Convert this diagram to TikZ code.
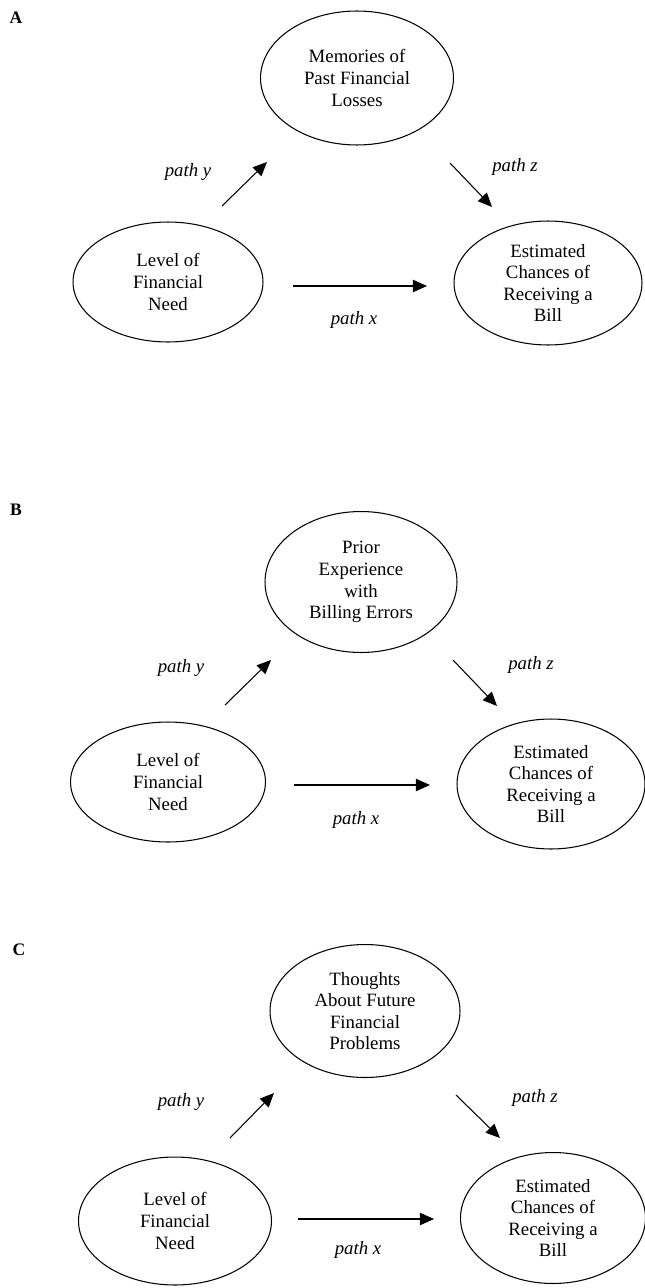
\documentclass[tikz,border=0pt]{standalone}
\usepackage{fontspec}
\setmainfont{Liberation Serif}
\usepackage{tikz}
\usetikzlibrary{shapes.geometric,arrows.meta}

\begin{document}
\begin{tikzpicture}[x=0.02cm, y=-0.02cm,
  ell/.style={draw, ellipse, line width=0.6pt, inner sep=0pt, align=center,
    font=\fontsize{10.7}{12.3}\selectfont},
  pth/.style={font=\fontsize{10.7}{12.3}\selectfont\itshape},
  arr/.style={line width=0.6pt, -{Triangle[length=8pt,width=7pt]}},
  panel/.style={font=\fontsize{10}{12}\selectfont\bfseries}]
\useasboundingbox (0,0) rectangle (645,1288);

\begin{scope}[shift={(0,18)}, name prefix=A-]
\node[panel] (lab) at (16,0) {A};
\node[ell, minimum width=3.86cm, minimum height=2.68cm] (mid) at (357,60) {Memories of\\Past Financial\\Losses};
\node[ell, minimum width=3.8cm, minimum height=2.4cm] (need) at (168,264) {Level of\\Financial\\Need};
\node[ell, minimum width=3.76cm, minimum height=2.48cm] (est) at (548,265) {Estimated\\Chances of\\Receiving a\\Bill};
\coordinate (y1) at (222,188);
\coordinate (y2) at (267,144);
\coordinate (z1) at (450,145);
\coordinate (z2) at (492,189);
\coordinate (x1) at (293,268);
\coordinate (x2) at (427,268);
\draw[arr] (y1) -- (y2);
\draw[arr] (z1) -- (z2);
\draw[arr] (x1) -- (x2);
\node[pth] (py) at (188,154) {path y};
\node[pth] (pz) at (515,149) {path z};
\node[pth] (px) at (354,302) {path x};
\end{scope}

\begin{scope}[shift={(0,510)}, name prefix=B-]
\node[panel] (lab) at (16,0) {B};
\node[ell, minimum width=3.84cm, minimum height=2.82cm] (mid) at (361,72) {Prior\\Experience\\with\\Billing Errors};
\node[ell, minimum width=3.9cm, minimum height=2.4cm] (need) at (168,272) {Level of\\Financial\\Need};
\node[ell, minimum width=3.76cm, minimum height=2.6cm] (est) at (551,274) {Estimated\\Chances of\\Receiving a\\Bill};
\coordinate (y1) at (225,195);
\coordinate (y2) at (271,150);
\coordinate (z1) at (453,150);
\coordinate (z2) at (497,196);
\coordinate (x1) at (294,275);
\coordinate (x2) at (430,275);
\draw[arr] (y1) -- (y2);
\draw[arr] (z1) -- (z2);
\draw[arr] (x1) -- (x2);
\node[pth] (py) at (181,158) {path y};
\node[pth] (pz) at (531,155) {path z};
\node[pth] (px) at (356,310) {path x};
\end{scope}

\begin{scope}[shift={(0,950)}, name prefix=C-]
\node[panel] (lab) at (19,0) {C};
\node[ell, minimum width=3.8cm, minimum height=2.66cm] (mid) at (365,61) {Thoughts\\About Future\\Financial\\Problems};
\node[ell, minimum width=3.86cm, minimum height=2.56cm] (need) at (175,271) {Level of\\Financial\\Need};
\node[ell, minimum width=3.7cm, minimum height=2.62cm] (est) at (553,268) {Estimated\\Chances of\\Receiving a\\Bill};
\coordinate (y1) at (230,188);
\coordinate (y2) at (274,143);
\coordinate (z1) at (456,145);
\coordinate (z2) at (500,188);
\coordinate (x1) at (298,269);
\coordinate (x2) at (434,269);
\draw[arr] (y1) -- (y2);
\draw[arr] (z1) -- (z2);
\draw[arr] (x1) -- (x2);
\node[pth] (py) at (181,152) {path y};
\node[pth] (pz) at (535,148) {path z};
\node[pth] (px) at (358,300) {path x};
\end{scope}
\end{tikzpicture}
\end{document}
